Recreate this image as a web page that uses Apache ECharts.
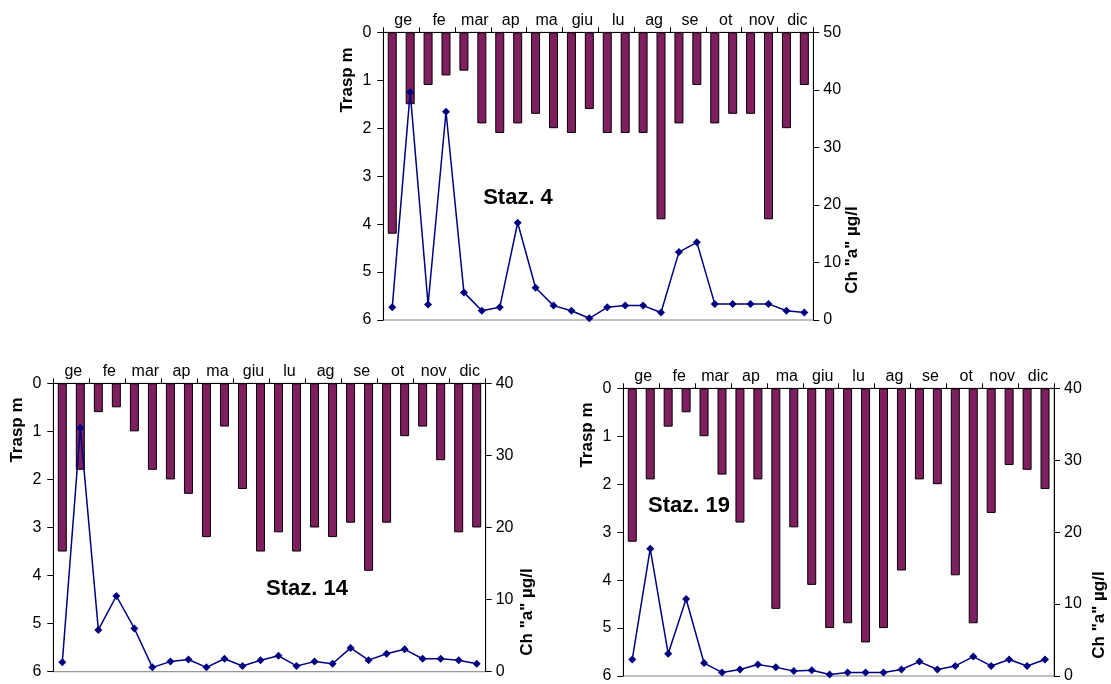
<!DOCTYPE html>
<html><head><meta charset="utf-8">
<script src="https://cdn.jsdelivr.net/npm/echarts@6/dist/echarts.min.js"></script>
<style>html,body{margin:0;padding:0;background:#fff}#c{width:1111px;height:684px}</style>
</head><body><div id="c"></div>
<script>
// Month tick labels (top axis) and the 24 sampling dates (two per month)
const months = ['ge','fe','mar','ap','ma','giu','lu','ag','se','ot','nov','dic'];
const samples = ['ge1','ge2','fe1','fe2','mar1','mar2','ap1','ap2','ma1','ma2','giu1','giu2',
                 'lu1','lu2','ag1','ag2','se1','se2','ot1','ot2','nov1','nov2','dic1','dic2'];

// Staz. 4
const staz4Trasp = [4.2,1.5,1.1,0.9,0.8,1.9,2.1,1.9,1.7,2.0,2.1,1.6,2.1,2.1,2.1,3.9,1.9,1.1,1.9,1.7,1.7,3.9,2.0,1.1];
const staz4Chl   = [2.2,39.6,2.7,36.2,4.8,1.6,2.2,16.9,5.6,2.5,1.6,0.3,2.2,2.5,2.5,1.3,11.8,13.5,2.8,2.8,2.8,2.8,1.6,1.3];
// Staz. 14
const staz14Trasp = [3.5,1.8,0.6,0.5,1.0,1.8,2.0,2.3,3.2,0.9,2.2,3.5,3.1,3.5,3.0,3.2,2.9,3.9,2.9,1.1,0.9,1.6,3.1,3.0];
const staz14Chl   = [1.3,33.8,5.8,10.5,6.0,0.6,1.4,1.7,0.6,1.8,0.8,1.6,2.2,0.8,1.4,1.1,3.3,1.6,2.5,3.1,1.8,1.8,1.6,1.1];
// Staz. 19
const staz19Trasp = [3.2,1.9,0.8,0.5,1.0,1.8,2.8,1.9,4.6,2.9,4.1,5.0,4.9,5.3,5.0,3.8,1.9,2.0,3.9,4.9,2.6,1.6,1.7,2.1];
const staz19Chl   = [2.3,17.7,3.1,10.7,1.8,0.5,0.9,1.6,1.2,0.7,0.8,0.2,0.5,0.5,0.5,0.9,2.0,0.9,1.4,2.7,1.4,2.3,1.4,2.3];

// Axis ranges
const traspMax = 6;
const chlMax = [50, 40, 40];
const stations = ['Staz. 4', 'Staz. 14', 'Staz. 19'];
const traspName = 'Trasp m';
const chlName = 'Ch "a" µg/l';

const FONT = "'Liberation Sans', Arial, sans-serif";
const panels = [
  {grid:{left:383.3, top:32.3, width:430, height:287.7}, trasp:staz4Trasp, chl:staz4Chl,
   title:[518,198], leftName:[347,80], rightName:[852,250]},
  {grid:{left:53.3, top:383.3, width:432.4, height:288.4}, trasp:staz14Trasp, chl:staz14Chl,
   title:[307,589], leftName:[17,430], rightName:[527,612]},
  {grid:{left:623.3, top:388.3, width:430.7, height:288.4}, trasp:staz19Trasp, chl:staz19Chl,
   title:[689,506], leftName:[587,435], rightName:[1099,615]}
];

const grid = [], xAxis = [], yAxis = [], series = [], graphic = [];
panels.forEach((p, i) => {
  grid.push(Object.assign({show:true, borderColor:'#808080', borderWidth:1, backgroundColor:'transparent'}, p.grid));
  // data axis (hidden)
  xAxis.push({type:'category', gridIndex:i, data:samples, position:'top', show:false, boundaryGap:true,
    axisLine:{onZero:false}});
  // month label axis
  xAxis.push({type:'category', gridIndex:i, data:months, position:'top', boundaryGap:true,
    axisLine:{show:true, onZero:false, lineStyle:{color:'#000', width:1}},
    axisTick:{show:true, inside:false, length:5, lineStyle:{color:'#000'}},
    axisLabel:{color:'#000', fontSize:16, fontFamily:FONT, margin:4, padding:[0,0,0,4]},
    splitLine:{show:false}});
  yAxis.push({type:'value', gridIndex:i, min:0, max:traspMax, interval:1, inverse:true, position:'left',
    axisLine:{show:true, onZero:false, lineStyle:{color:'#000', width:1}},
    axisTick:{show:true, inside:false, length:6, lineStyle:{color:'#000'}},
    axisLabel:{color:'#000', fontSize:16, fontFamily:FONT, margin:12},
    splitLine:{show:false}});
  yAxis.push({type:'value', gridIndex:i, min:0, max:chlMax[i], interval:10, position:'right',
    axisLine:{show:true, onZero:false, lineStyle:{color:'#000', width:1}},
    axisTick:{show:true, inside:false, length:6, lineStyle:{color:'#000'}},
    axisLabel:{color:'#000', fontSize:16, fontFamily:FONT, margin:10},
    splitLine:{show:false}});
  series.push({type:'bar', name:traspName, xAxisIndex:2*i, yAxisIndex:2*i, data:p.trasp,
    barWidth:9, itemStyle:{color:'#7F1F5F', borderColor:'#000', borderWidth:1}, silent:true});
  series.push({type:'line', name:chlName, xAxisIndex:2*i, yAxisIndex:2*i+1, data:p.chl,
    symbol:'diamond', symbolSize:8, showSymbol:true,
    lineStyle:{color:'#000080', width:1.5}, itemStyle:{color:'#000080'}, silent:true, z:3});
  graphic.push({type:'text', x:p.title[0], y:p.title[1], z:10,
    style:{text:stations[i], font:"bold 22px " + FONT, fill:'#000', align:'center', verticalAlign:'middle'}});
  graphic.push({type:'text', x:p.leftName[0], y:p.leftName[1], rotation:Math.PI/2, z:10,
    style:{text:traspName, font:"bold 17px " + FONT, fill:'#000', align:'center', verticalAlign:'middle'}});
  graphic.push({type:'text', x:p.rightName[0], y:p.rightName[1], rotation:Math.PI/2, z:10,
    style:{text:chlName, font:"bold 17px " + FONT, fill:'#000', align:'center', verticalAlign:'middle'}});
});

const chart = echarts.init(document.getElementById('c'), null, {renderer:'canvas'});
chart.setOption({animation:false, backgroundColor:'#fff', grid, xAxis, yAxis, series, graphic});
</script></body></html>
